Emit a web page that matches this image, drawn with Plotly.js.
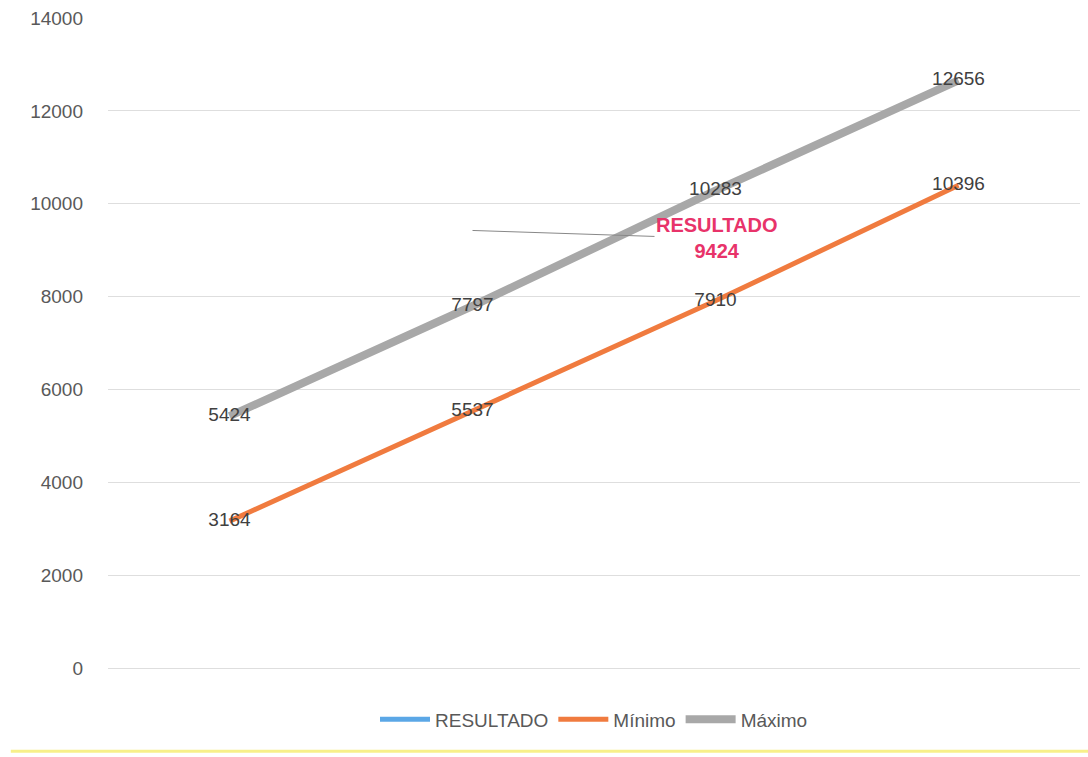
<!DOCTYPE html>
<html>
<head>
<meta charset="utf-8">
<script src="https://cdn.plot.ly/plotly-3.0.1.min.js"></script>
<style>html,body{margin:0;padding:0;background:#fff;}#chart{width:1088px;height:757px;}</style>
</head>
<body>
<div id="chart"></div>
<script>
const categories = ['1', '2', '3', '4'];
const resultado = [null, 9424, null, null];
const minimo = [3164, 5537, 7910, 10396];
const maximo = [5424, 7797, 10283, 12656];
const resultadoLabel = 'RESULTADO<br>9424';
const yTicks = [0, 2000, 4000, 6000, 8000, 10000, 12000, 14000];

const resIdx = resultado.findIndex(v => v !== null);
const labelFont = {family: 'Liberation Sans, Arial, sans-serif', size: 19, color: '#404040'};

const traces = [
  {x: categories, y: resultado, name: 'RESULTADO', type: 'scatter', mode: 'lines',
   line: {color: '#5ba7e6', width: 5}, hoverinfo: 'skip'},
  {x: categories, y: minimo, name: 'Mínimo', type: 'scatter', mode: 'lines+text',
   line: {color: '#f07b3f', width: 5}, text: minimo.map(String), textposition: 'middle center',
   textfont: labelFont},
  {x: categories, y: maximo, name: 'Máximo', type: 'scatter', mode: 'lines+text',
   line: {color: '#a8a8a8', width: 8}, text: maximo.map(String), textposition: 'middle center',
   textfont: labelFont}
];

const layout = {
  width: 1088, height: 757,
  margin: {l: 108, r: 8, t: 18, b: 89},
  paper_bgcolor: '#ffffff', plot_bgcolor: '#ffffff',
  showlegend: true,
  legend: {orientation: 'h', x: 0.5, xanchor: 'center', y: -0.05, yanchor: 'top',
           font: {family: 'Liberation Sans, Arial, sans-serif', size: 19, color: '#595959'},
           itemwidth: 50, traceorder: 'normal'},
  xaxis: {type: 'category', range: [-0.5, 3.5], showticklabels: false, showgrid: false,
          zeroline: false, showline: false, ticks: ''},
  yaxis: {range: [0, 14000], tickvals: yTicks, ticktext: yTicks.map(String),
          showgrid: true, gridcolor: '#dedede', gridwidth: 1,
          zeroline: true, zerolinecolor: '#dedede', zerolinewidth: 1, showline: false,
          ticks: '', ticklabelstandoff: 24,
          tickfont: {family: 'Liberation Sans, Arial, sans-serif', size: 19, color: '#595959'}},
  annotations: [
    {x: resIdx, y: resultado[resIdx], xref: 'x', yref: 'y', text: resultadoLabel,
     showarrow: true, arrowhead: 0, arrowwidth: 1, arrowcolor: '#888888',
     ax: 244, ay: 8, standoff: 0,
     font: {family: 'Liberation Sans, Arial, sans-serif', size: 20, color: '#e8336a', weight: 'bold'}}
  ],
  shapes: [
    {type: 'line', xref: 'paper', yref: 'paper', x0: -0.1, x1: 1.01, y0: -0.128, y1: -0.128,
     line: {color: '#f7f08a', width: 3}}
  ]
};

Plotly.newPlot('chart', traces, layout, {displayModeBar: false, staticPlot: true});
</script>
</body>
</html>
